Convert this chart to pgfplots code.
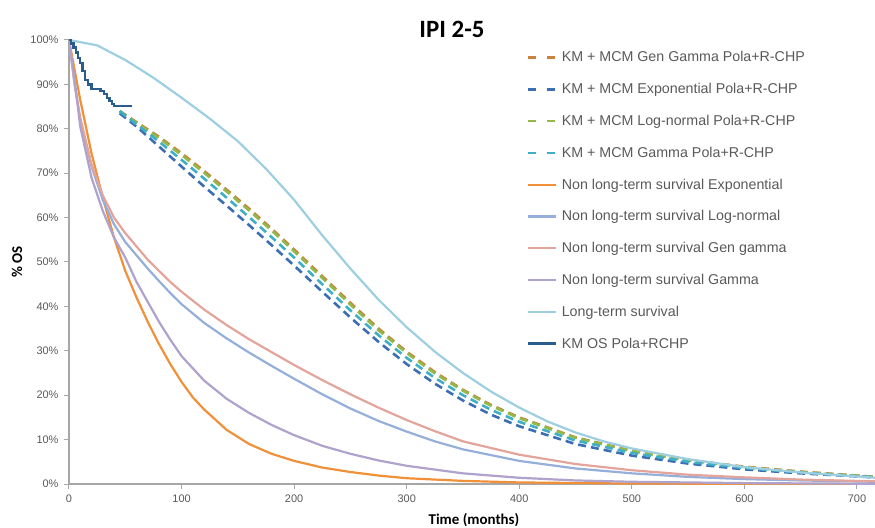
\documentclass[border=0pt]{standalone}
\usepackage{fontspec}
\setmainfont{Liberation Sans}
\newfontfamily\calib{Carlito}
\usepackage{pgfplots}
\pgfplotsset{compat=1.18}
\definecolor{mcmGG}{HTML}{C8843C}
\definecolor{mcmExp}{HTML}{3C6EB4}
\definecolor{mcmLN}{HTML}{92B94A}
\definecolor{mcmGam}{HTML}{3FAFC6}
\definecolor{nExp}{HTML}{F0913A}
\definecolor{nLN}{HTML}{95AEDA}
\definecolor{nGG}{HTML}{E3A49C}
\definecolor{nGam}{HTML}{AFA2CC}
\definecolor{lts}{HTML}{9DCFE0}
\definecolor{km}{HTML}{2A5C8E}
\definecolor{axgrey}{HTML}{A6A6A6}
\definecolor{tickgrey}{HTML}{595959}
\begin{document}
\begin{tikzpicture}
\begin{axis}[
  at={(0,0)}, anchor=south west, scale only axis,
  width=806bp, height=444bp,
  xmin=0, xmax=716, ymin=0, ymax=100,
  axis x line*=bottom, axis y line*=left,
  axis line style={draw=axgrey, line width=1.2bp},
  xtick={0,100,...,700}, ytick={0,10,...,100},
  tick align=outside, major tick length=5bp,
  tick style={draw=axgrey, line width=1bp},
  /pgf/number format/assume math mode=true,
  yticklabel={\pgfmathprintnumber{\tick}\%},
  ticklabel style={font=\fontsize{11}{13}\selectfont, text=tickgrey},
  xticklabel style={yshift=-2bp},
  yticklabel style={xshift=-2bp},
  legend cell align=left,
  legend style={at={(0.567,0.979)}, anchor=north west, draw=none, fill=none,
    font=\fontsize{14.3}{17}\selectfont, text=tickgrey, row sep=16bp,
    inner sep=0pt, /tikz/every odd column/.append style={column sep=3bp}},
  mcm/.style={line width=2.6bp, dash pattern=on 8bp off 5bp},
  nlt/.style={line width=2.2bp},
  dashleg/.style={legend image code/.code={\draw[##1, dash pattern=on 8bp off 11bp] (0bp,0bp) -- (28bp,0bp);}},
  solleg/.style={legend image code/.code={\draw[##1] (0bp,0bp) -- (28bp,0bp);}},
]
% KM + MCM Gen Gamma
\addplot[mcm, color=mcmGG, dashleg] coordinates {
(45,84) (60,81.5) (80,78.2) (100,74.5) (120,70.5) (140,66.3) (160,62) (180,57.5) (200,52.8) (225,46.8) (250,40.8) (275,35) (300,29.8) (325,25.2) (350,21.2) (375,17.8) (400,15) (450,10.5) (500,7.5) (550,5.4) (600,3.9) (650,2.8) (716,1.6)};
\addlegendentry{KM + MCM Gen Gamma Pola+R-CHP}
% KM + MCM Exponential
\addplot[mcm, color=mcmExp, dashleg] coordinates {
(45,83.5) (60,80.5) (80,76) (100,71.5) (120,67) (140,62.7) (160,58.3) (180,53.8) (200,49.2) (225,43.3) (250,37.5) (275,32) (300,27) (325,22.6) (350,18.8) (375,15.6) (400,13) (450,9) (500,6.4) (550,4.6) (600,3.3) (650,2.4) (716,1.5)};
\addlegendentry{KM + MCM Exponential Pola+R-CHP}
% KM + MCM Log-normal
\addplot[mcm, color=mcmLN, dashleg] coordinates {
(45,84) (60,81.3) (80,77.9) (100,74.1) (120,70.1) (140,65.9) (160,61.6) (180,57.1) (200,52.4) (225,46.4) (250,40.4) (275,34.6) (300,29.5) (325,24.9) (350,21) (375,17.6) (400,14.8) (450,10.4) (500,7.4) (550,5.3) (600,3.8) (650,2.7) (716,1.6)};
\addlegendentry{KM + MCM Log-normal Pola+R-CHP}
% KM + MCM Gamma
\addplot[mcm, color=mcmGam, dashleg] coordinates {
(45,84) (60,81) (80,77.1) (100,73) (120,68.8) (140,64.5) (160,60.1) (180,55.6) (200,51) (225,45) (250,39.1) (275,33.5) (300,28.4) (325,23.9) (350,20) (375,16.7) (400,14) (450,9.8) (500,7) (550,5) (600,3.6) (650,2.6) (716,1.5)};
\addlegendentry{KM + MCM Gamma Pola+R-CHP}
% Non long-term Exponential
\addplot[nlt, color=nExp, solleg] coordinates {
(0,100) (10,86.5) (20,74.5) (30,64.5) (40,55.5) (50,48) (60,42) (70,36.5) (80,31.5) (90,27) (100,23) (110,19.5) (120,16.8) (140,12.2) (160,9) (180,6.8) (200,5.2) (225,3.7) (250,2.7) (275,1.9) (300,1.3) (350,0.7) (400,0.35) (500,0.1) (716,0)};
\addlegendentry{Non long-term survival Exponential}
% Non long-term Log-normal
\addplot[nlt, color=nLN, solleg] coordinates {
(0,100) (5,90) (10,82) (20,71.5) (30,64) (40,58.5) (50,54.5) (60,51.5) (70,48.5) (80,45.7) (90,43) (100,40.5) (120,36.3) (140,32.8) (160,29.6) (180,26.6) (200,23.7) (225,20.2) (250,17) (275,14.2) (300,11.8) (325,9.6) (350,7.8) (400,5.2) (450,3.5) (500,2.4) (550,1.6) (600,1.1) (650,0.8) (716,0.5)};
\addlegendentry{Non long-term survival Log-normal}
% Non long-term Gen gamma
\addplot[nlt, color=nGG, solleg] coordinates {
(0,100) (5,90) (10,82.5) (20,72) (30,65) (40,60) (50,56.5) (60,53.5) (70,50.5) (80,48) (90,45.5) (100,43.3) (120,39.3) (140,35.8) (160,32.6) (180,29.7) (200,26.8) (225,23.4) (250,20.2) (275,17.2) (300,14.4) (325,11.9) (350,9.6) (400,6.6) (450,4.5) (500,3.1) (550,2.1) (600,1.5) (650,1) (716,0.6)};
\addlegendentry{Non long-term survival Gen gamma}
% Non long-term Gamma
\addplot[nlt, color=nGam, solleg] coordinates {
(0,100) (5,91) (10,80.5) (20,69) (30,61.5) (40,55.5) (50,51) (60,45.5) (70,41) (80,36.5) (90,32.5) (100,28.8) (120,23.3) (140,19.2) (160,16) (180,13.3) (200,11) (225,8.6) (250,6.8) (275,5.3) (300,4.1) (350,2.4) (400,1.4) (450,0.8) (500,0.5) (600,0.2) (716,0.05)};
\addlegendentry{Non long-term survival Gamma}
% Long-term survival
\addplot[nlt, color=lts, solleg] coordinates {
(0,100) (25,98.8) (50,95.5) (75,91.5) (100,87) (125,82.3) (150,77.2) (175,71) (200,64) (225,56) (250,48.5) (275,41.5) (300,35.3) (325,29.8) (350,25) (375,20.8) (400,17.2) (425,14.1) (450,11.6) (475,9.6) (500,8) (550,5.6) (600,3.8) (650,2.6) (716,1.4)};
\addlegendentry{Long-term survival}
% KM OS
\addplot[line width=2.3bp, color=km, const plot, solleg] coordinates {
(0,100) (2,99.2) (4,98.3) (6,97.2) (8,96) (10,94.8) (12,93) (14,91) (17,90) (20,89) (25,89) (28,88.5) (31,87.8) (34,87) (36,86.3) (38,85.6) (40,85.1) (56,85.1)};
\addlegendentry{KM OS Pola+RCHP}
\end{axis}
\node[font=\calib\bfseries\fontsize{25}{28}\selectfont, text=black] at (383bp,455bp) {IPI 2-5};
\node[font=\calib\bfseries\fontsize{15}{17}\selectfont, text=black, rotate=90] at (-52bp,222bp) {\% OS};
\node[font=\calib\bfseries\fontsize{15}{17}\selectfont, text=black] at (405bp,-36bp) {Time (months)};
\pgfresetboundingbox
\path[use as bounding box] (-69bp,-44bp) rectangle (806bp,484bp);
\end{tikzpicture}
\end{document}
